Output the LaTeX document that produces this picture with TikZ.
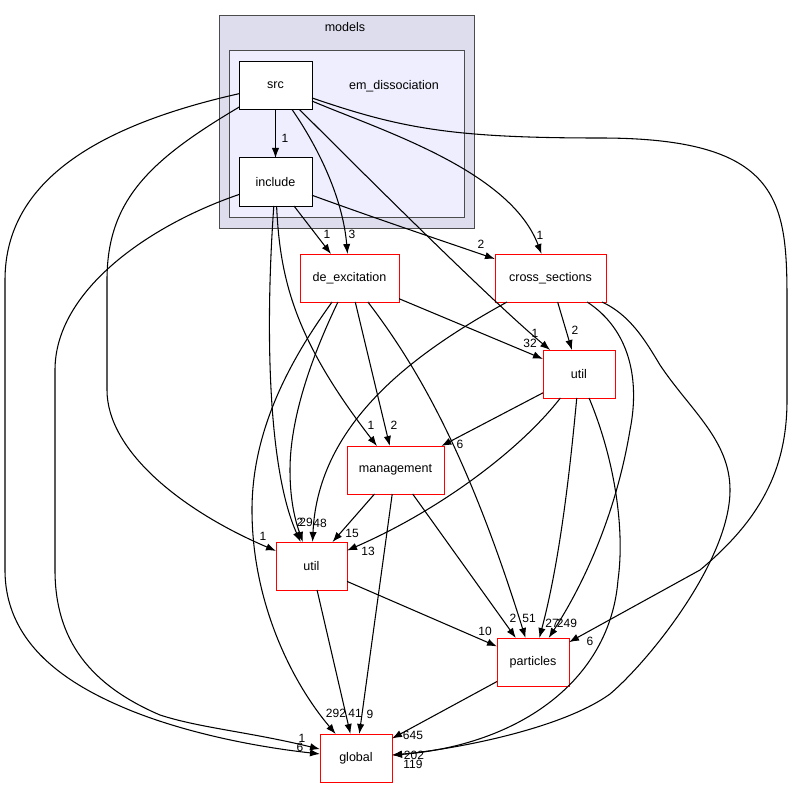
\documentclass[tikz,border=0pt]{standalone}
\usepackage{fontspec}
\setmainfont{Liberation Sans}
\usetikzlibrary{arrows.meta}
\definecolor{modelsbg}{HTML}{DDDDEE}
\definecolor{emdissbg}{HTML}{EEEEFF}

\begin{document}
\begin{tikzpicture}[x=0.75pt, y=-0.75pt, font=\fontsize{9.4}{11}\selectfont, box/.style = {draw, fill=white, inner sep=0pt, outer sep=0pt, minimum height=36pt, line width=0.75pt}, dirbox/.style = {box, draw=red, line width=0.75pt}, cluster/.style = {draw=black!70, line width=0.75pt, inner sep=0pt, outer sep=0pt}, lbl/.style = {inner sep=0pt, font=\fontsize{9}{10}\selectfont}]
\useasboundingbox (0,0) rectangle (792,788);

\node[cluster, fill=modelsbg, minimum width=191.25pt, minimum height=159pt] (models) at (346.5,122) {};
\node[cluster, fill=emdissbg, minimum width=176.25pt, minimum height=124.5pt] (em_dissociation) at (346.5,134) {};
\node (models_label) at (345,27) {models};
\node (em_dissociation_label) at (394,86) {em\_dissociation};

\node[box, minimum width=54.75pt] (src) at (275.5,85.5) {src};
\node[box, minimum width=54.75pt] (include) at (275.5,182) {include};
\node[dirbox, minimum width=74.25pt] (de_excitation) at (349.5,278) {de\_excitation};
\node[dirbox, minimum width=83.25pt] (cross_sections) at (550.5,278) {cross\_sections};
\node[dirbox, minimum width=54pt] (util_r) at (579,374) {util};
\node[dirbox, minimum width=72.75pt] (management) at (395.5,470) {management};
\node[dirbox, minimum width=53.25pt] (util_b) at (311.5,566) {util};
\node[dirbox, minimum width=54pt] (particles) at (533,662) {particles};
\node[dirbox, minimum width=54pt] (global) at (356,758) {global};

\begin{scope}[-{Latex[length=7.5pt,width=5.5pt]}, line width=0.8pt]
\path [color=black] (src) edge (include);
\path [color=black] (include) edge (de_excitation);
\path [color=black] (de_excitation) edge (util_r);
\path [color=black] (de_excitation) edge (management);
\path [color=black] (cross_sections) edge (util_r);
\path [color=black] (util_r) edge (management);
\path [color=black] (management) edge (util_b);
\path [color=black] (management) edge (global);
\path [color=black] (management) edge (particles);
\path [color=black] (util_b) edge (particles);
\path [color=black] (util_b) edge (global);
\path [color=black] (particles) edge (global);
\draw (src) .. controls (320,150) and (343,200) .. (de_excitation);
\draw (src) .. controls (350,160) and (490,300) .. (util_r);
\draw (src) .. controls (380,130) and (510,170) .. (cross_sections);
\draw (src) .. controls (400,128) and (450,138) .. (600,138) .. controls (780,138) and (787,200) .. (787,300) -- (787,400) .. controls (787,470) and (760,520) .. (700,570) -- (particles);
\draw (src) .. controls (150,160) and (107,200) .. (107,280) -- (107,390) .. controls (107,450) and (180,510) .. (util_b);
\draw (src) .. controls (100,125) and (5,180) .. (5,280) -- (5,570) .. controls (5,640) and (60,680) .. (120,706) .. controls (170,728) and (240,745) .. (global);
\draw (include) .. controls (150,225) and (55,290) .. (55,370) -- (55,570) .. controls (55,640) and (90,685) .. (160,715) .. controls (200,728) and (250,732) .. (global);
\draw (include) .. controls (265,330) and (268,470) .. (util_b);
\draw (include) .. controls (280,280) and (295,340) .. (management);
\draw (include) .. controls (380,220) and (440,240) .. (cross_sections);
\draw (de_excitation) .. controls (420,370) and (470,460) .. (particles);
\draw (de_excitation) .. controls (290,360) and (252,430) .. (252,510) .. controls (252,600) and (290,680) .. (global);
\draw (de_excitation) .. controls (310,360) and (290,420) .. (290,470) .. controls (290,500) and (295,520) .. (util_b);
\draw (cross_sections) .. controls (420,350) and (318,420) .. (util_b);
\draw (cross_sections) .. controls (630,330) and (640,380) .. (630,430) .. controls (615,520) and (580,590) .. (particles);
\draw (cross_sections) .. controls (630,315) and (645,340) .. (660,365) .. controls (690,410) and (730,440) .. (730,490) .. controls (730,560) and (650,660) .. (610,694) .. controls (560,730) and (450,750) .. (global);
\draw (util_r) .. controls (570,470) and (560,560) .. (particles);
\draw (util_r) .. controls (615,460) and (625,530) .. (618,580) .. controls (610,680) and (520,745) .. (global);
\draw (util_r) .. controls (520,450) and (440,510) .. (util_b);
\end{scope}

\node[lbl] (n_src_include) at (285,138) {1};
\node[lbl] (n_include_de) at (327,234) {1};
\node[lbl] (n_src_de) at (352,234) {3};
\node[lbl] (n_include_cs) at (481,244) {2};
\node[lbl] (n_src_cs) at (540,235) {1};
\node[lbl] (n_src_utilr) at (535,333) {1};
\node[lbl] (n_de_utilr) at (530,343) {32};
\node[lbl] (n_cs_utilr) at (575,330) {2};
\node[lbl] (n_include_mgmt) at (371,425) {1};
\node[lbl] (n_de_mgmt) at (394,425) {2};
\node[lbl] (n_utilr_mgmt) at (460,444) {6};
\node[lbl] (n_src_utilb) at (263,536) {1};
\node[lbl] (n_include_utilb) at (300,522) {2};
\node[lbl] (n_de_utilb) at (306,522) {29};
\node[lbl] (n_cs_utilb) at (320,523) {48};
\node[lbl] (n_mgmt_utilb) at (352,533) {15};
\node[lbl] (n_utilr_utilb) at (368,551) {13};
\node[lbl] (n_utilb_part) at (485,631) {10};
\node[lbl] (n_mgmt_part) at (513,618) {2};
\node[lbl] (n_de_part) at (529,618) {51};
\node[lbl] (n_utilr_part) at (552,623) {27};
\node[lbl] (n_cs_part) at (567,623) {249};
\node[lbl] (n_src_part) at (590,641) {6};
\node[lbl] (n_de_global) at (336,713) {292};
\node[lbl] (n_utilb_global) at (355,713) {41};
\node[lbl] (n_mgmt_global) at (370,714) {9};
\node[lbl] (n_include_global) at (302,738) {1};
\node[lbl] (n_src_global) at (300,747) {6};
\node[lbl] (n_part_global) at (413,735) {645};
\node[lbl] (n_cs_global) at (414,755) {202};
\node[lbl] (n_utilr_global) at (413,764) {119};
\end{tikzpicture}
\end{document}
